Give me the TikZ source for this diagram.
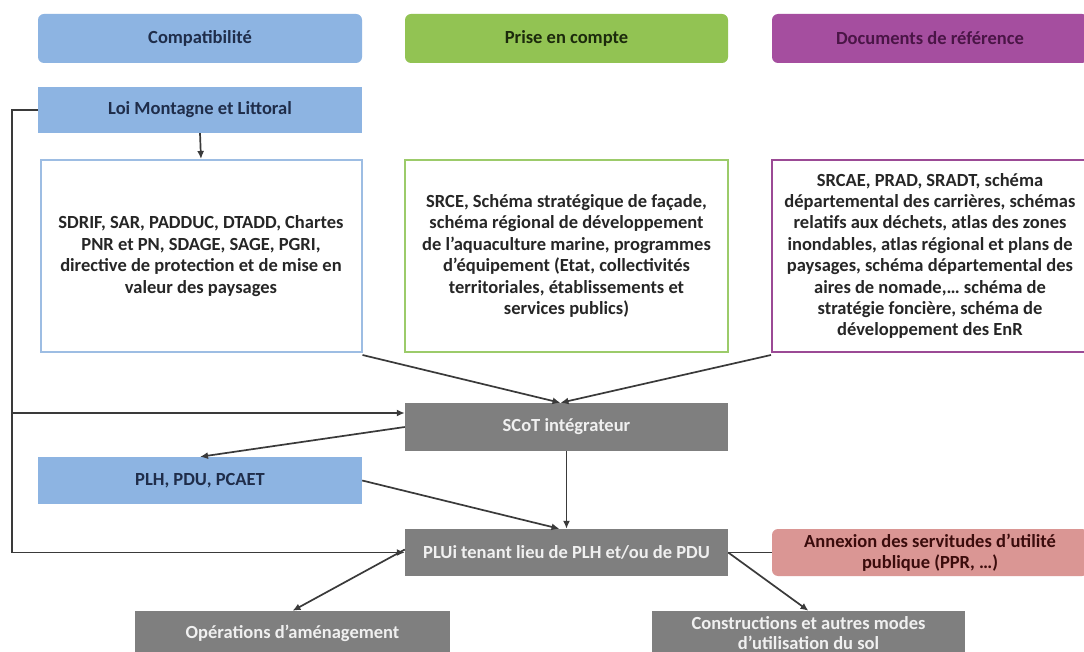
\documentclass[tikz,border=0pt]{standalone}
\usepackage{fontspec}
\setmainfont{Carlito}
\usetikzlibrary{arrows.meta}
\definecolor{hblue}{HTML}{8DB4E2}
\definecolor{hgreen}{HTML}{92C353}
\definecolor{hpurple}{HTML}{A54E9F}
\definecolor{bblue}{HTML}{9DBDE3}
\definecolor{bgreen}{HTML}{9CCB6A}
\definecolor{bpurple}{HTML}{9B4A95}
\definecolor{gbox}{HTML}{7F7F7F}
\definecolor{pinkb}{HTML}{DA9694}
\definecolor{navy}{HTML}{1F2D4A}
\definecolor{dgreen}{HTML}{1C2A0C}
\definecolor{dpurple}{HTML}{4A1546}
\definecolor{dred}{HTML}{3B0C0C}
\definecolor{tgray}{HTML}{262626}
\definecolor{lnc}{HTML}{3A3A3A}
\tikzset{
  base/.style={inner sep=0pt, align=center, font=\bfseries\fontsize{18.5}{21.4}\selectfont},
  hdr/.style={base, rounded corners=6pt, minimum height=49pt},
  bluebox/.style={base, fill=hblue, text=navy, minimum width=324pt},
  txtbox/.style={base, draw, line width=2pt, fill=white, text=tgray, minimum height=192pt},
  graybox/.style={base, fill=gbox, text=white!94!black},
  ln/.style={draw=lnc, line width=1.7pt},
  arr/.style={ln, -{Latex[length=8pt,width=7pt]}}
}
\begin{document}
\begin{tikzpicture}[x=1pt,y=-1pt]
\useasboundingbox (0,0) rectangle (1084,652);
\clip (0,0) rectangle (1084,652);
\fill[white] (0,0) rectangle (1084,652);
% headers
\node[hdr, bluebox] (comp) at (200,38.5) {Compatibilité};
\node[hdr, fill=hgreen, text=dgreen, minimum width=323pt] (prise) at (566.5,38.5) {Prise en compte};
\node[hdr, fill=hpurple, text=dpurple, minimum width=316pt] (docs) at (930,38.5) {Documents de référence};
% row 2
\node[bluebox, minimum height=46pt] (loi) at (200,110) {Loi Montagne et Littoral};
% text boxes
\node[txtbox, draw=bblue, minimum width=321pt] (sdrif) at (201,256)
  {SDRIF, SAR, PADDUC, DTADD, Chartes\\PNR et PN, SDAGE, SAGE, PGRI,\\directive de protection et de mise en\\valeur des paysages};
\node[txtbox, draw=bgreen, minimum width=323pt] (srce) at (566.5,256)
  {SRCE, Schéma stratégique de façade,\\schéma régional de développement\\de l’aquaculture marine, programmes\\d’équipement (Etat, collectivités\\territoriales, établissements et\\services publics)};
\node[txtbox, draw=bpurple, minimum width=316pt] (srcae) at (930,256)
  {SRCAE, PRAD, SRADT, schéma\\départemental des carrières, schémas\\relatifs aux déchets, atlas des zones\\inondables, atlas régional et plans de\\paysages, schéma départemental des\\aires de nomade,… schéma de\\stratégie foncière, schéma de\\développement des EnR};
% middle
\node[graybox, minimum width=323pt, minimum height=48pt] (scot) at (566.5,427) {SCoT intégrateur};
\node[bluebox, minimum height=47pt] (plh) at (200,480.5) {PLH, PDU, PCAET};
\node[graybox, minimum width=323pt, minimum height=47pt] (plui) at (566.5,552.5) {PLUi tenant lieu de PLH et/ou de PDU};
\node[base, rounded corners=6pt, fill=pinkb, text=dred, minimum width=316pt, minimum height=47pt] (annex) at (930,552.5) {Annexion des servitudes d’utilité\\publique (PPR, …)};
% bottom
\node[graybox, minimum width=315pt, minimum height=44pt] (oper) at (292.5,633) {Opérations d’aménagement};
\node[graybox, minimum width=313pt, minimum height=44pt] (cons) at (808.5,633) {Constructions et autres modes\\[-2pt]d’utilisation du sol};
% connectors
\coordinate (c1) at (12,110);
\coordinate (c2) at (12,552.5);
\coordinate (c3) at (12,413);
\coordinate (sin) at ([xshift=-6pt]scot.north);
\coordinate (pin) at ([xshift=-7pt]plui.north);
\draw[arr] (loi.south) -- (sdrif.north);
\draw[arr] (loi.west) -- (c1) -- (c2) -- (plui.west);
\draw[arr] (c3) -- (scot.west |- c3);
\draw[arr] ([yshift=-2pt]sdrif.south east) -- (sin);
\draw[arr] ([yshift=-2pt]srcae.south west) -- (sin);
\draw[arr] (scot.west) -- (plh.north);
\draw[arr] (scot.south) -- (plui.north);
\draw[arr] (plh.east) -- (pin);
\draw[arr] ([yshift=3pt]plui.west) -- (oper.north);
\draw[arr] (plui.east) -- (cons.north);
\draw[ln] (plui.east) -- (annex.west);
\end{tikzpicture}
\end{document}
